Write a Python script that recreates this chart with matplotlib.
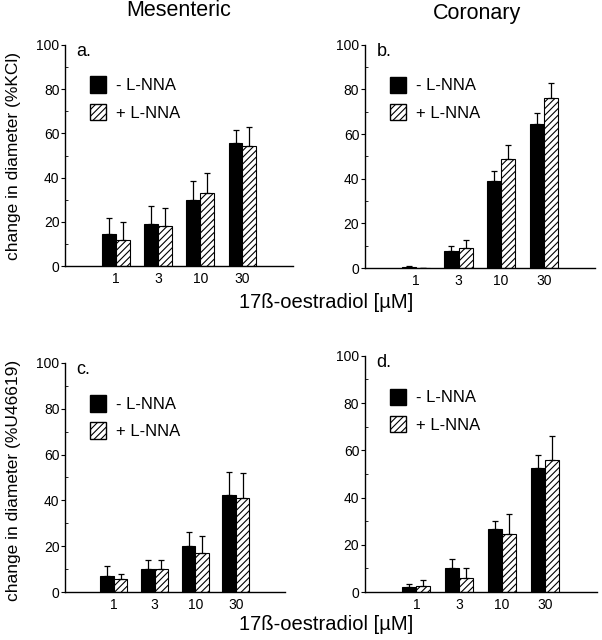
import numpy as np
import matplotlib
matplotlib.use('Agg')
import matplotlib.pyplot as plt
from matplotlib.patches import Patch
from matplotlib.ticker import MultipleLocator

plt.rcParams['font.family'] = ['Liberation Sans', 'DejaVu Sans']
plt.rcParams['hatch.linewidth'] = 0.8

doses = ['1', '3', '10', '30']

# panel a: mesenteric, %KCl
a_minus = [14.5, 19, 30, 55.5]
a_minus_err = [7.5, 8, 8.5, 6]
a_plus = [12, 18, 33, 54.5]
a_plus_err = [8, 8.5, 9, 8.5]

# panel b: coronary, %KCl
b_minus = [0.4, 7.5, 39, 64.5]
b_minus_err = [0.4, 2.5, 4.5, 5]
b_plus = [0, 9, 49, 76]
b_plus_err = [0, 3.5, 6, 7]

# panel c: mesenteric, %U46619
c_minus = [7, 10, 20, 42.5]
c_minus_err = [4.5, 4, 6, 10]
c_plus = [5.5, 10, 17, 41]
c_plus_err = [2.5, 4, 7.5, 11]

# panel d: coronary, %U46619
d_minus = [2, 10, 26.5, 52.5]
d_minus_err = [1.5, 4, 3.5, 5.5]
d_plus = [2.5, 6, 24.5, 56]
d_plus_err = [2.5, 4, 8.5, 10]

panels = [
    ('a.', [0.108, 0.584, 0.379, 0.346], a_minus, a_minus_err, a_plus, a_plus_err),
    ('b.', [0.606, 0.581, 0.382, 0.349], b_minus, b_minus_err, b_plus, b_plus_err),
    ('c.', [0.108, 0.075, 0.365, 0.358], c_minus, c_minus_err, c_plus, c_plus_err),
    ('d.', [0.606, 0.075, 0.385, 0.369], d_minus, d_minus_err, d_plus, d_plus_err),
]

fig = plt.figure(figsize=(6.02, 6.40), dpi=100)
w = 0.33
x = np.arange(len(doses))

for letter, rect, m, me, p, pe in panels:
    ax = fig.add_axes(rect)
    ax.bar(x - w / 2, m, w, color='black', edgecolor='black', linewidth=0.8,
           yerr=[np.zeros(len(me)), me], capsize=2.5,
           error_kw=dict(elinewidth=0.9, capthick=0.9, ecolor='black'))
    ax.bar(x + w / 2, p, w, color='white', edgecolor='black', linewidth=0.8, hatch='/////',
           yerr=[np.zeros(len(pe)), pe], capsize=2.5,
           error_kw=dict(elinewidth=0.9, capthick=0.9, ecolor='black'))
    ax.set_xlim(-1.2, 4.2)
    ax.set_ylim(0, 100)
    ax.set_xticks(x)
    ax.set_xticklabels(doses, fontsize=10)
    ax.tick_params(axis='x', length=0, pad=4)
    ax.yaxis.set_major_locator(MultipleLocator(20))
    ax.yaxis.set_minor_locator(MultipleLocator(10))
    ax.tick_params(axis='y', which='major', direction='out', length=3, labelsize=10, pad=1)
    ax.tick_params(axis='y', which='minor', direction='in', length=2)
    for s in ['top', 'right']:
        ax.spines[s].set_visible(False)
    ax.spines['left'].set_linewidth(1)
    ax.spines['bottom'].set_linewidth(1)
    ax.text(0.05, 0.97, letter, transform=ax.transAxes, fontsize=13, va='center', ha='left')
    handles = [Patch(facecolor='black', edgecolor='black'),
               Patch(facecolor='white', edgecolor='black', hatch='/////')]
    ax.legend(handles, ['- L-NNA', '+ L-NNA'], loc='upper left', bbox_to_anchor=(0.045, 0.925),
              frameon=False, fontsize=12, handlelength=0.95, handleheight=1.15,
              handletextpad=0.6, labelspacing=0.62)

fig.text(0.297, 0.984, 'Mesenteric', fontsize=15.5, ha='center', va='center')
fig.text(0.792, 0.979, 'Coronary', fontsize=15.5, ha='center', va='center')
fig.text(0.541, 0.528, '17ß-oestradiol [µM]', fontsize=14.5, ha='center', va='center')
fig.text(0.541, 0.024, '17ß-oestradiol [µM]', fontsize=14.5, ha='center', va='center')
fig.text(0.022, 0.757, 'change in diameter (%KCl)', fontsize=12.5, rotation=90, ha='center', va='center')
fig.text(0.022, 0.25, 'change in diameter (%U46619)', fontsize=12.5, rotation=90, ha='center', va='center')

fig.savefig('out.png', dpi=100)
